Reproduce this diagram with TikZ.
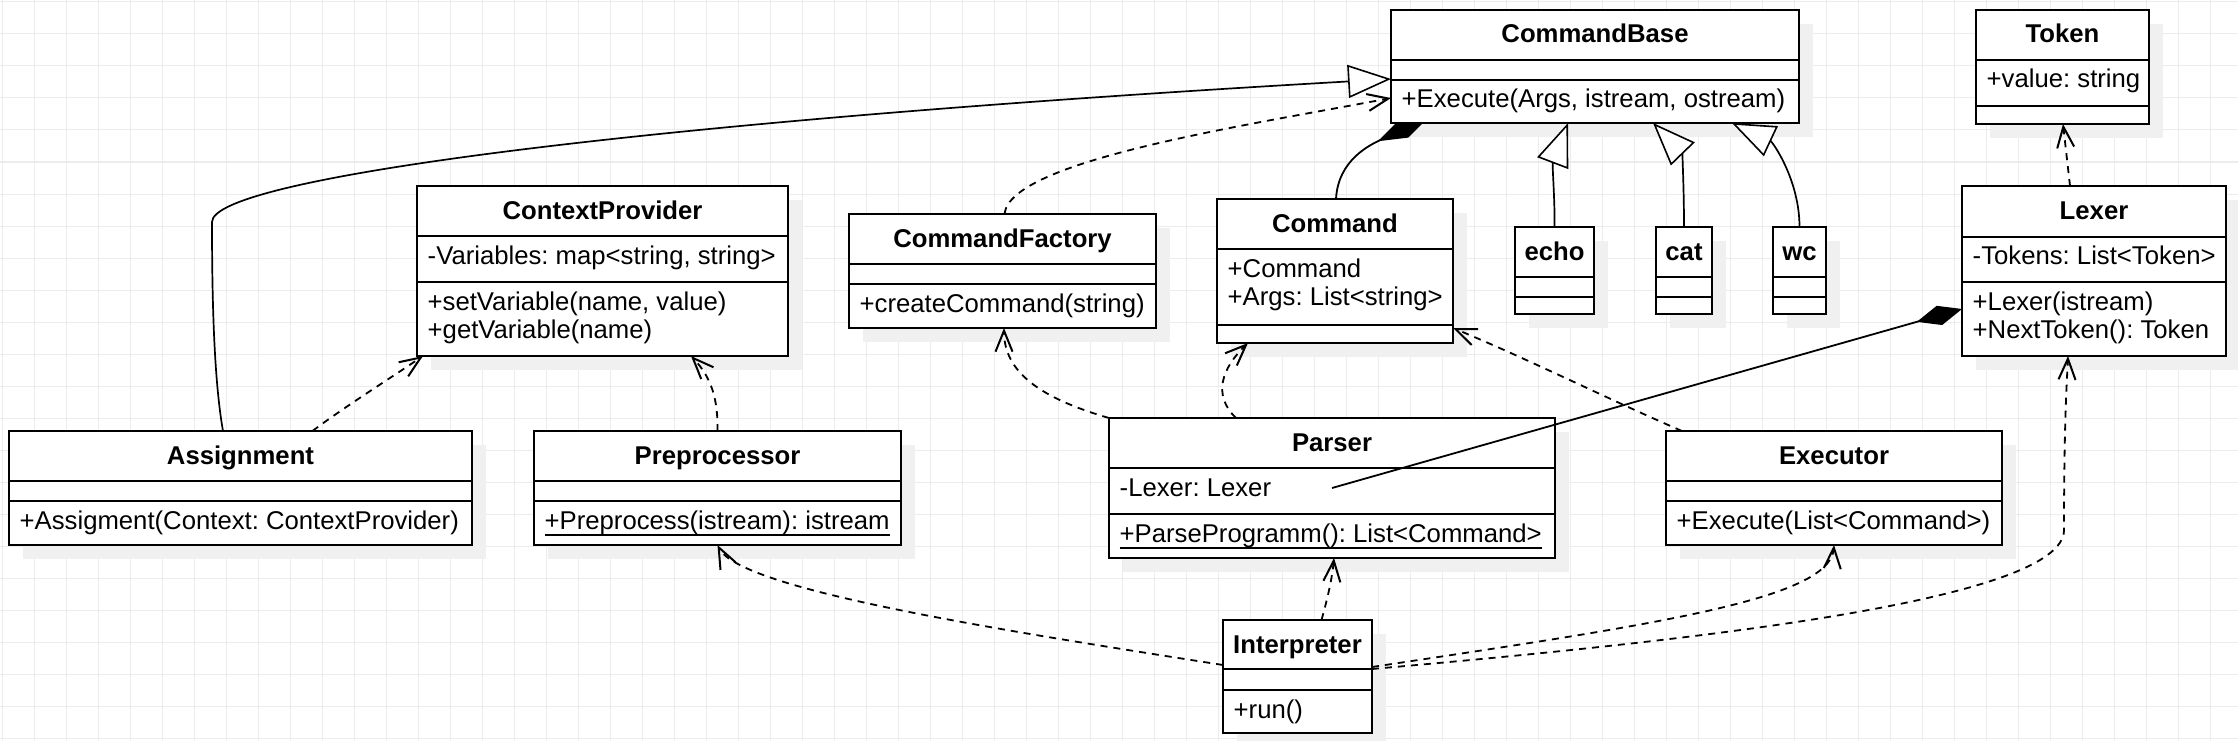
\documentclass[tikz,border=0pt]{standalone}
\usepackage{fontspec}
\setmainfont{Liberation Sans}
\usetikzlibrary{arrows.meta,calc}
\pgfdeclarelayer{bg}
\pgfdeclarelayer{shad}
\pgfdeclarelayer{under}
\pgfsetlayers{bg,shad,under,main}
\definecolor{gridc}{RGB}{236,236,236}
\definecolor{shadowc}{RGB}{240,240,240}
\newcommand\memfont{\fontsize{25.7}{28}\selectfont\frenchspacing}
\newcommand\ttlfont{\fontsize{25.7}{28}\selectfont\bfseries\frenchspacing}
% #1 name, #2 x1, #3 y1, #4 x2, #5 y2, #6 sep1, #7 sep2
\newcommand\umlbox[7]{%
  \begin{pgfonlayer}{shad}\fill[shadowc] (#2+14,#3+14) rectangle (#4+14,#5+14);\end{pgfonlayer}
  \node[classbox, minimum width={(#4)-(#2)}, minimum height={(#5)-(#3)}] (#1) at ({((#2)+(#4))/2},{((#3)+(#5))/2}) {};
  \draw[sepline] (#2,#6) -- (#4,#6) (#2,#7) -- (#4,#7);
}
\frenchspacing
\begin{document}
\begin{tikzpicture}[x=1pt,y=-1pt,
  classbox/.style={draw, line width=2pt, fill=white, inner sep=0pt, outer sep=0pt},
  sepline/.style={line width=2pt},
  gridline/.style={draw=gridc, line width=1pt},
  ttl/.style={inner sep=0pt, font=\ttlfont, anchor=base},
  mem/.style={inner sep=0pt, font=\memfont, anchor=base west},
  uline/.style={line width=1.8pt},
  dep/.style={line width=1.8pt, dash pattern=on 7pt off 6pt, -{Straight Barb[length=21pt, width=17pt, line width=2pt]}},
  gen/.style={line width=1.7pt, -{Triangle[length=43pt, width=33pt, fill=white, line width=1.6pt]}},
  comp/.style={line width=1.8pt, -{Diamond[length=47pt, width=20pt, fill=black]}},
  compb/.style={line width=1.8pt, -{Diamond[length=58pt, width=20pt, fill=black]}}
]
\useasboundingbox (0,0) rectangle (2238,741);
\begin{pgfonlayer}{bg}
  \fill[white] (0,0) rectangle (2238,741);
  \foreach \i in {0,...,69} \draw[gridline] ({2+32*\i},0) -- ({2+32*\i},741);
  \foreach \j in {0,...,23} \draw[gridline] (0,{2+32*\j}) -- (2238,{2+32*\j});
\end{pgfonlayer}

% ---------- boxes ----------
\umlbox{cb}{1391}{10}{1799}{123}{60}{80}
\umlbox{tok}{1976}{10}{2149}{124}{60}{106}
\umlbox{ctx}{417}{186}{788}{356}{236}{282}
\umlbox{cf}{849}{214}{1156}{328}{264}{284}
\umlbox{cmd}{1217}{199}{1453}{343}{249}{325}
\umlbox{echo}{1515}{227}{1594}{314}{277}{297}
\umlbox{cat}{1656}{227}{1712}{314}{277}{297}
\umlbox{wc}{1773}{227}{1826}{314}{277}{297}
\umlbox{lex}{1962}{186}{2226}{356}{236.5}{282}
\umlbox{asg}{9}{431}{472}{545}{481}{501}
\umlbox{pre}{534}{431}{901}{545}{481}{501}
\umlbox{par}{1109}{418}{1555}{558}{468}{514}
\umlbox{exe}{1666}{431}{2002}{545}{481}{501}
\umlbox{itp}{1223}{620}{1372}{733}{669}{690}

% ---------- titles ----------
\node[ttl] (cbT) at (cb.north |- 0,43) {CommandBase};
\node[ttl] (tokT) at (tok.north |- 0,43) {Token};
\node[ttl] (ctxT) at (ctx.north |- 0,219) {ContextProvider};
\node[ttl] (cfT) at (cf.north |- 0,247) {CommandFactory};
\node[ttl] (cmdT) at (cmd.north |- 0,232) {Command};
\node[ttl] (echoT) at (echo.north |- 0,260) {echo};
\node[ttl] (catT) at (cat.north |- 0,260) {cat};
\node[ttl] (wcT) at (wc.north |- 0,260) {wc};
\node[ttl] (lexT) at (lex.north |- 0,219) {Lexer};
\node[ttl] (asgT) at (asg.north |- 0,464) {Assignment};
\node[ttl] (preT) at (pre.north |- 0,464) {Preprocessor};
\node[ttl] (parT) at (par.north |- 0,451) {Parser};
\node[ttl] (exeT) at (exe.north |- 0,464) {Executor};
\node[ttl] (itpT) at (itp.north |- 0,653) {Interpreter};

% ---------- members ----------
\node[mem] (cbM1) at (1401.5,108) {+Execute(Args, istream, ostream)};
\node[mem] (tokA1) at (1986.5,88) {+value: string};
\node[mem] (ctxA1) at (427.5,264) {-Variables: map<string, string>};
\node[mem] (ctxM1) at (427.5,310) {+setVariable(name, value)};
\node[mem] (ctxM2) at (427.5,338) {+getVariable(name)};
\node[mem] (cfM1) at (859.5,312) {+createCommand(string)};
\node[mem] (cmdA1) at (1227.5,277) {+Command};
\node[mem] (cmdA2) at (1227.5,305) {+Args: List<string>};
\node[mem] (lexA1) at (1972.5,264.5) {-Tokens: List<Token>};
\node[mem] (lexM1) at (1972.5,310) {+Lexer(istream)};
\node[mem] (lexM2) at (1972.5,338) {+NextToken(): Token};
\node[mem] (asgM1) at (19.5,529) {+Assigment(Context: ContextProvider)};
\node[mem] (preM1) at (544.5,529) {+Preprocess(istream): istream};
\draw[uline] ([yshift=-6pt]preM1.base west) -- ([yshift=-6pt]preM1.base east);
\node[mem] (parA1) at (1119.5,496) {-Lexer: Lexer};
\node[mem] (parM1) at (1119.5,542) {+ParseProgramm(): List<Command>};
\draw[uline] ([yshift=-6pt]parM1.base west) -- ([yshift=-6pt]parM1.base east);
\node[mem] (exeM1) at (1676.5,529) {+Execute(List<Command>)};
\node[mem] (itpM1) at (1233.5,718) {+run()};

% ---------- connectors ----------
\begin{pgfonlayer}{under}
  \draw[compb] ([xshift=1pt]cmd.north) .. controls (1338,160) and (1370,145) .. ([xshift=-165pt,yshift=7pt]cb.south);
\end{pgfonlayer}

\draw[gen] ([xshift=-17.5pt]asg.north) .. controls (214,380) and (212,300) .. (212,222)
   .. controls (212,178) and (640,122) .. ([yshift=-12.5pt]cb.west);
\draw[dep] ([xshift=2pt]cf.north) .. controls (1010,160) and (1250,125) .. ([yshift=-31.5pt]cb.west);
\draw[gen] (echo.north) .. controls (1555,200) and (1552,165) .. ([xshift=-27pt]cb.south);
\draw[gen] (cat.north) .. controls (1684,185) and (1682,153) .. ([xshift=58pt]cb.south);
\draw[gen] (wc.north) .. controls (1799.5,180) and (1772.6,142) .. ([xshift=137pt]cb.south);

\draw[comp] (par.center) -- ([yshift=-38pt]lex.west);

\draw[dep] ([xshift=-96pt]par.north) .. controls (1212,395) and (1222,368) .. ([xshift=-87pt]cmd.south);
\draw[dep] (par.north west) .. controls (1040,398) and (1004,372) .. ([xshift=1.5pt]cf.south);
\draw[dep] ([xshift=16pt]exe.north west) .. controls (1610,400) and (1530,360) .. ([yshift=-57pt]cmd.east);
\draw[dep] ([xshift=24pt]itp.north) .. controls (1327,600) and (1332,580) .. ([xshift=2pt]par.south);
\draw[dep] ([yshift=11.5pt]itp.west) .. controls (1000,630) and (740,590) .. (pre.south);
\draw[dep] ([yshift=9.5pt]itp.east) .. controls (1650,625) and (1830,600) .. (exe.south);
\draw[dep] ([yshift=7.5pt]itp.east) .. controls (1700,640) and (2064,600) .. (2064,530)
   .. controls (2064,420) and (2067,380) .. ([xshift=-26pt]lex.south);
\draw[dep] (pre.north) .. controls (718,400) and (712,378) .. ([xshift=88.5pt]ctx.south);
\draw[dep] ([xshift=72pt]asg.north) .. controls (340,410) and (395,375) .. ([xshift=6pt]ctx.south west);
\draw[dep] ([xshift=-24pt]lex.north) -- ([xshift=0.5pt]tok.south);
\end{tikzpicture}
\end{document}
